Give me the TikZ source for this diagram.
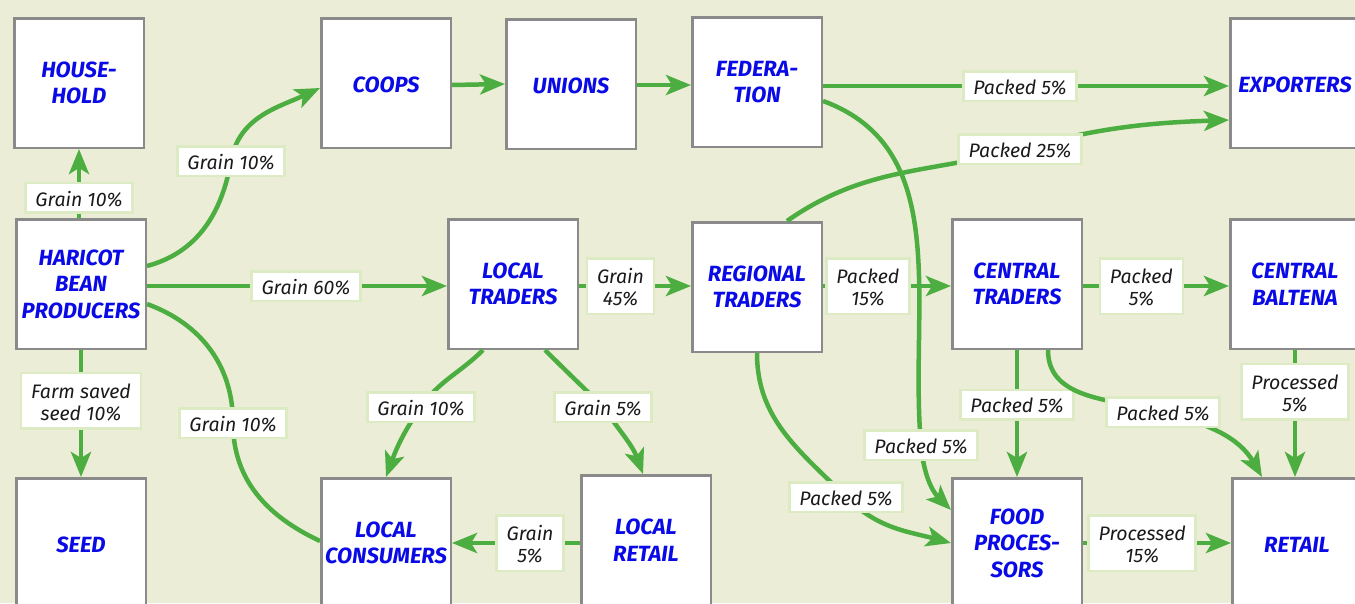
\documentclass[tikz,border=0pt]{standalone}
\usepackage{fontspec}
\setmainfont{Fira Sans}
\usetikzlibrary{arrows.meta}
\definecolor{bg}{HTML}{ECEDD7}
\definecolor{boxgray}{HTML}{8A8A8A}
\definecolor{nodeblue}{HTML}{0A0AE6}
\definecolor{lblgreen}{HTML}{DCEBC4}
\definecolor{lbltext}{HTML}{1A1A1A}
\definecolor{flowgreen}{HTML}{4CAE40}
\newcommand{\ls}{\rule[-1.5pt]{0pt}{19.5pt}}
\begin{document}
\begin{tikzpicture}[x=1pt,y=1pt,
  box/.style={draw=boxgray, line width=2.5pt, fill=white, minimum width=129.5pt, minimum height=129.5pt, inner sep=2pt, align=center, text=nodeblue, font=\fontsize{22}{26.5}\selectfont\bfseries\itshape, execute at begin node={\rule{0pt}{19.5pt}}},
  lbl/.style={draw=lblgreen, line width=2.5pt, fill=white, inner xsep=10pt, inner ysep=5pt, align=center, text=lbltext, font=\fontsize{19.5}{22}\selectfont\itshape},
  lbltwo/.style={lbl, inner ysep=7pt},
  arr/.style={draw=flowgreen, line width=4.5pt, -{Stealth[length=25pt,width=20pt,inset=6pt]}},
  plain/.style={draw=flowgreen, line width=4.5pt}]
\fill[bg] (0,0) rectangle (1355,-603);
\clip (0,0) rectangle (1355,-603);

% boxes
\node[box] (hh) at (79,-83) {HOUSE-\\HOLD};
\node[box] (hbp) at (81,-284) {HARICOT\\BEAN\\PRODUCERS};
\node[box] (seed) at (81,-543) {SEED};
\node[box] (coops) at (386,-83) {COOPS};
\node[box] (unions) at (571,-84) {UNIONS};
\node[box] (fed) at (757,-82) {FEDERA-\\TION};
\node[box] (exp) at (1295,-83) {EXPORTERS};
\node[box] (lt) at (513,-284) {LOCAL\\TRADERS};
\node[box] (rt) at (757,-287) {REGIONAL\\TRADERS};
\node[box] (ct) at (1017,-284) {CENTRAL\\TRADERS};
\node[box] (cb) at (1295,-284) {CENTRAL\\BALTENA};
\node[box] (lc) at (386,-543) {LOCAL\\CONSUMERS};
\node[box] (lr) at (646,-540) {LOCAL\\RETAIL};
\node[box] (fp) at (1017,-543) {FOOD\\PROCES-\\SORS};
\node[box] (ret) at (1297,-543) {RETAIL};

% label points on curves
\coordinate (m2) at (231,-161);
\coordinate (m5) at (233,-423);
\coordinate (m9) at (1020,-149);
\coordinate (m10) at (921,-445);
\coordinate (m11) at (846,-497);
\coordinate (m16) at (1163,-412);
\coordinate (m19) at (421,-407);
\coordinate (m20) at (603,-407);

% straight connectors
\draw[arr] (hbp.north -| hh.south) -- node[lbl,pos=0.29] (l1) {\ls Grain 10\%} (hh.south);
\draw[arr] ([yshift=-2pt]hbp.east) -- node[lbl,pos=0.53] (l3) {\ls Grain 60\%} ([yshift=-2pt]hbp.east -| lt.west);
\draw[arr] (hbp.south) -- node[lbltwo,pos=0.40] (l4) {\ls Farm saved\\\ls seed 10\%} (seed.north);
\draw[arr] ([yshift=-2pt]coops.east) -- (unions.west);
\draw[arr] ([yshift=-1pt]unions.east) -- ([yshift=-1pt]unions.east -| fed.west);
\draw[arr] ([yshift=-4pt]fed.east) -- node[lbl,pos=0.485] (l8) {\ls Packed 5\%} ([yshift=-4pt]fed.east -| exp.west);
\draw[arr] ([yshift=-2pt]lt.east) -- node[lbltwo,pos=0.37] (l12) {\ls Grain\\\ls 45\%} ([yshift=-2pt]lt.east -| rt.west);
\draw[arr] ([yshift=1pt]rt.east) -- node[lbltwo,pos=0.35] (l13) {\ls Packed\\\ls 15\%} ([yshift=1pt]rt.east -| ct.west);
\draw[arr] ([yshift=-2pt]ct.east) -- node[lbltwo,pos=0.40] (l14) {\ls Packed\\\ls 5\%} ([yshift=-2pt]ct.east -| cb.west);
\draw[arr] (ct.south) -- node[lbl,pos=0.43] (l15) {\ls Packed 5\%} (fp.north);
\draw[arr] (cb.south) -- node[lbltwo,pos=0.33] (l17) {\ls Processed\\\ls 5\%} (cb.south |- ret.north);
\draw[arr] (fp.east) -- node[lbltwo,pos=0.40] (l18) {\ls Processed\\\ls 15\%} (fp.east -| ret.west);
\draw[arr] ([yshift=-3pt]lr.west) -- node[lbltwo,pos=0.39] (l21) {\ls Grain\\\ls 5\%} ([yshift=-3pt]lr.west -| lc.east);

% curved connectors
\draw[arr] ([yshift=18pt]hbp.east) to[out=15,in=-100] (m2) node[lbl] (l2) {\ls Grain 10\%} to[out=80,in=-155] ([yshift=-5pt]coops.west);
\draw[plain] ([yshift=-20pt]hbp.east) to[out=-20,in=90] (m5) node[lbl] (l5) {\ls Grain 10\%} to[out=-90,in=155] ([yshift=2pt]lc.west);
\draw[arr] ([xshift=30pt]rt.north) to[out=35,in=-165] (m9) node[lbl] (l9) {\ls Packed 25\%} to[out=15,in=182] ([yshift=-37pt]exp.west);
\draw[arr] ([yshift=-19pt]fed.east) to[out=-20,in=95] (m10) node[lbl] (l10) {\ls Packed 5\%} to[out=-85,in=135] ([yshift=33pt]fp.west);
\draw[arr] (rt.south) to[out=-90,in=135] (m11) node[lbl] (l11) {\ls Packed 5\%} to[out=-45,in=165] (fp.west);
\draw[arr] ([xshift=31pt]ct.south) to[out=-90,in=165] (m16) node[lbl] (l16) {\ls Packed 5\%} to[out=-15,in=120] ([xshift=-35pt]ret.north);
\draw[arr] ([xshift=-30pt]lt.south) to[out=-135,in=55] (m19) node[lbl] (l19) {\ls Grain 10\%} to[out=-125,in=70] (lc.north);
\draw[arr] ([xshift=32pt]lt.south) to[out=-45,in=135] (m20) node[lbl] (l20) {\ls Grain 5\%} to[out=-55,in=110] ([xshift=-3pt]lr.north);
\end{tikzpicture}
\end{document}
